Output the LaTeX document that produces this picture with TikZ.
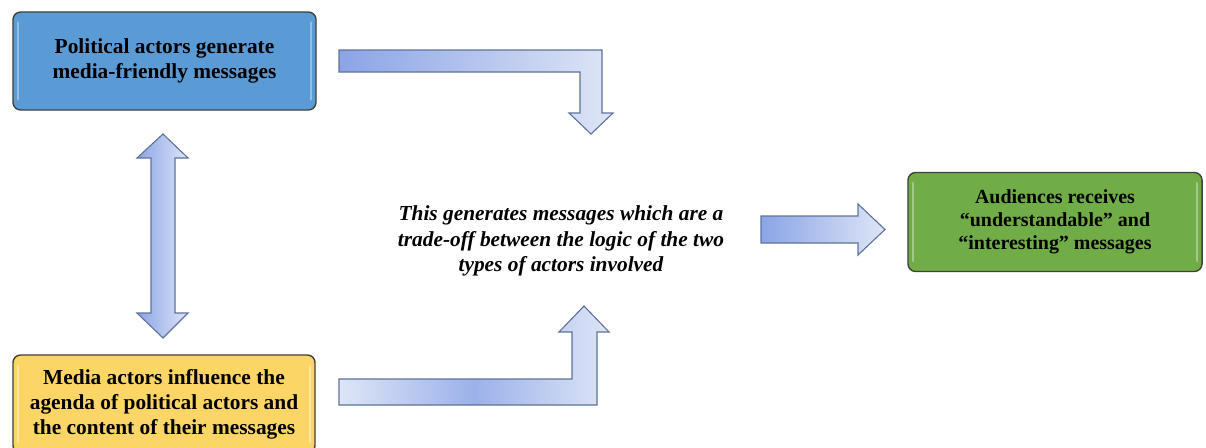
\documentclass[tikz,border=0pt]{standalone}
\usepackage{fontspec}
\setmainfont{Liberation Serif}
\usetikzlibrary{calc}

\definecolor{polblue}{HTML}{5B9BD5}
\definecolor{medyellow}{HTML}{FBD565}
\definecolor{audgreen}{HTML}{70AD47}
\definecolor{arrdark}{HTML}{8BA4E6}
\definecolor{arrlight}{HTML}{DEE5F6}
\definecolor{arredge}{HTML}{5E7399}
\definecolor{boxedge}{HTML}{404040}

\begin{document}
\begin{tikzpicture}[x=0.025cm, y=-0.025cm,
    box/.style={rectangle, rounded corners=5.5pt, draw=boxedge, line width=1pt,
    align=center, inner sep=0pt, font=\fontsize{15.2}{17.7}\selectfont\bfseries},
    blockarrow/.style={draw=arredge, line width=0.8pt, line join=miter},
    gloss/.style={line width=1.2pt, line cap=round}]
    \clip (0,0) rectangle (1206,448);
    \node[box, fill=polblue, minimum width=7.575cm, minimum height=2.45cm] (P) at (164.5,61) {Political actors generate\\media-friendly messages};
    \node[box, fill=medyellow, minimum width=7.55cm, minimum height=2.45cm] (Y) at (164,404) {Media actors influence the\\agenda of political actors and\\the content of their messages};
    \node[box, fill=audgreen, minimum width=7.35cm, minimum height=2.475cm, font=\fontsize{14.2}{16.3}\selectfont\bfseries] (A) at (1055,222) {Audiences receives\\``understandable'' and\\``interesting'' messages};
    \node[align=center, font=\fontsize{15.2}{18.4}\selectfont\bfseries\itshape] (M) at (561,241) {This generates messages which are a\\trade-off between the logic of the two\\types of actors involved};
    \draw[gloss, polblue!65!white] ($(P.north west)+(6,11)$) -- ($(P.south west)+(6,-11)$);
    \draw[gloss, polblue!65!white] ($(P.north east)+(-6,11)$) -- ($(P.south east)+(-6,-11)$);
    \draw[gloss, medyellow!60!white] ($(Y.north west)+(6,11)$) -- ($(Y.south west)+(6,-11)$);
    \draw[gloss, medyellow!60!white] ($(Y.north east)+(-6,11)$) -- ($(Y.south east)+(-6,-11)$);
    \draw[gloss, audgreen!65!white] ($(A.north west)+(6,11)$) -- ($(A.south west)+(6,-11)$);
    \draw[gloss, audgreen!65!white] ($(A.north east)+(-6,11)$) -- ($(A.south east)+(-6,-11)$);
    \draw[blockarrow, left color=arrdark, right color=arrlight] (339,50) -- (602,50) -- (602,113) -- (613,113) -- (591,134) -- (569,113) -- (580,113) -- (580,72) -- (339,72) -- cycle;
    \draw[blockarrow, left color=arrlight, right color=arrlight, middle color=arrdark!80!arrlight] (339,379) -- (572,379) -- (572,332) -- (559,332) -- (584,306) -- (609,332) -- (597,332) -- (597,405) -- (339,405) -- cycle;
    \draw[blockarrow, left color=arrdark, right color=arrlight] (163,134) -- (188,158) -- (175,158) -- (175,313) -- (188,313) -- (163,338) -- (137,313) -- (151,313) -- (151,158) -- (137,158) -- cycle;
    \draw[blockarrow, left color=arrdark, right color=arrlight] (761,216) -- (858,216) -- (858,204) -- (885,229.5) -- (858,255) -- (858,243) -- (761,243) -- cycle;
\end{tikzpicture}
\end{document}
